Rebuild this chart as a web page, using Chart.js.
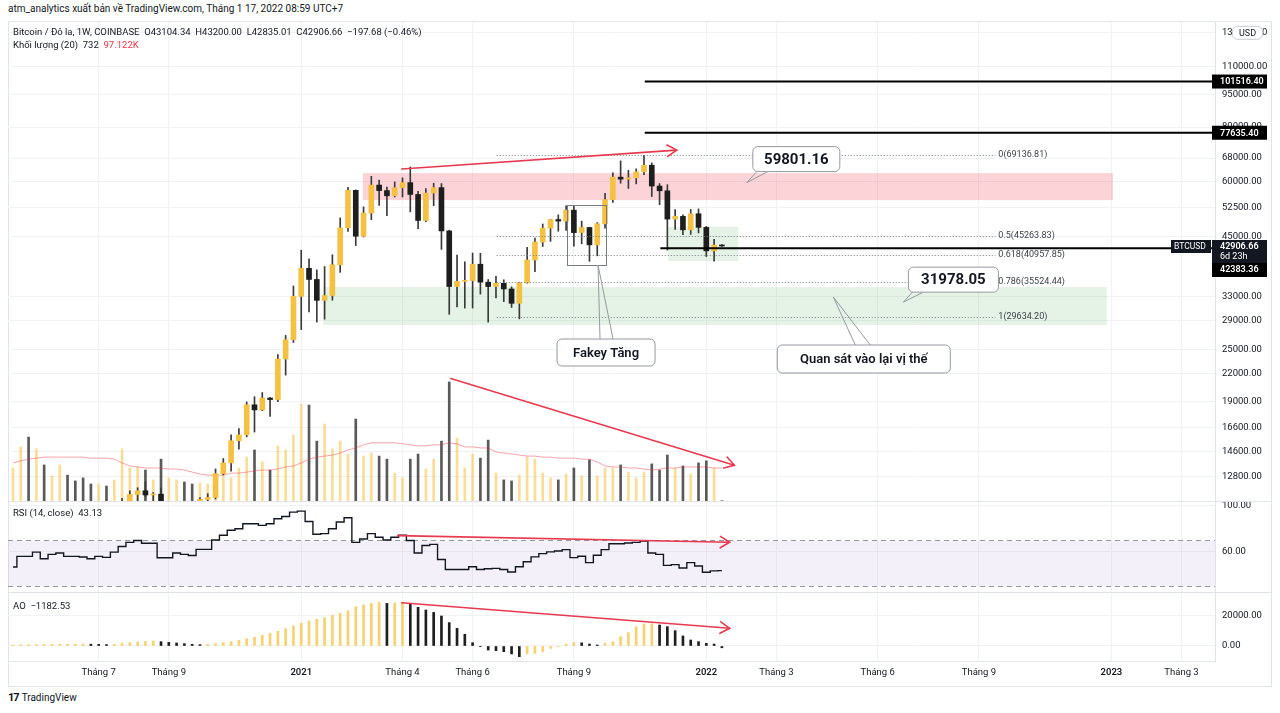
<!DOCTYPE html>
<html lang="vi">
<head>
<meta charset="UTF-8">
<title>Bitcoin / Đô la, 1W, COINBASE</title>
<script src="https://cdn.jsdelivr.net/npm/chart.js"></script>
<style>
  html, body { margin: 0; padding: 0; background: #fff; }
  body { width: 1280px; height: 713px; position: relative; overflow: hidden;
         font-family: Roboto, "Noto Sans", sans-serif; color: #131722; }
  .pub { position: absolute; left: 8px; top: 3px; font-size: 10px; }
  .frame { position: absolute; left: 8px; top: 21px; width: 1264px; height: 666px;
           border: 1px solid #e0e3eb; box-sizing: border-box; }
  .sep { position: absolute; left: 8px; width: 1264px; height: 1px; background: #e0e3eb; }
  canvas { position: absolute; left: 8px; }
  .lg { position: absolute; left: 13px; font-size: 9.5px; white-space: pre; z-index: 5; }
  .logo { position: absolute; left: 8px; top: 691px; font-size: 10px; }
  .logo b { font-size: 11px; letter-spacing: -1px; margin-right: 3px; }
</style>
</head>
<body>
<div class="pub">atm_analytics xuất bản về TradingView.com, Tháng 1 17, 2022 08:59 UTC+7</div>
<div class="frame"></div>
<div class="sep" style="top:501px"></div>
<div class="sep" style="top:592px"></div>

<canvas id="priceChart" width="1264" height="479" style="top:22px"></canvas>
<canvas id="rsiChart" width="1264" height="90" style="top:502px"></canvas>
<canvas id="aoChart" width="1264" height="93" style="top:593px"></canvas>

<div class="lg" style="top:26px">Bitcoin / Đô la, 1W, COINBASE  O43104.34  H43200.00  L42835.01  C42906.66  −197.68 (−0.46%)</div>
<div class="lg" style="top:39px">Khối lượng (20)  732  <span style="color:#f23645">97.122K</span></div>
<div class="lg" style="top:507px">RSI (14, close)  43.13</div>
<div class="lg" style="top:600px">AO  −1182.53</div>
<div class="logo"><b>17</b>TradingView</div>

<script>
// weekly bars, Apr 20 2020 ... Jan 17 2022 (index 0..91)
const opens = [6850,7700,8900,8720,9680,8900,9450,9760,9380,9300,
  9130,9070,9260,9190,9930,11050,11680,11910,11650,11700,
  10260,10330,10920,10750,10680,11380,11500,13030,13780,15480,
  15960,18680,18190,19350,19200,23740,26260,32960,38180,36010,
  32280,33100,38880,47180,57420,45160,50980,59030,57350,55800,
  58220,59800,56200,49050,56620,58250,46430,34700,35650,35800,
  39000,35500,34700,35290,34260,31780,35400,39870,43800,47100,
  49280,48880,51770,46030,47270,43170,48200,54700,61530,60880,
  61300,63270,65500,58730,57290,49400,50100,46700,50800,47300,
  41830,43104.34];
const highs = [7780,9460,10070,9920,9900,9780,10420,9990,9800,9780,
  9300,9470,9360,9990,11450,11900,12100,12470,11800,12090,
  10700,11100,10950,10960,11490,11730,13350,14100,15960,16490,
  18960,19490,19920,19420,24300,26860,34800,41990,40110,37870,
  38530,40980,49700,58350,57560,52650,61800,60630,58430,60000,
  61300,64900,57150,57950,59600,59500,46600,40900,39500,41350,
  41300,36000,36600,35950,34650,35450,42600,44750,48150,49350,
  50500,52950,52950,48850,47350,48500,56550,62950,67000,63750,
  64270,69000,66300,59500,59150,51950,50500,51950,52100,47550,
  44450,43200];
const lows = [6760,7680,8110,8200,8810,8640,9270,9120,8930,8830,
  8900,9040,9050,9150,9900,10950,11150,11550,11120,9880,
  9850,10230,10140,10400,10530,11200,11410,12950,13200,14800,
  15790,16200,18110,17580,19000,21820,25880,27700,30400,28800,
  29250,32300,37380,46300,43000,45000,49250,53050,50300,55450,
  55450,51300,47000,48750,53000,42150,30000,31200,31000,31000,
  33350,28800,32700,32070,31100,29300,35300,37500,42800,43950,
  46350,46550,42850,43400,39600,40750,47120,53880,59600,58000,
  59400,62300,55600,53250,42000,46800,45500,45600,45950,40600,
  39650,42835.01];
const closes = [7700,8900,8720,9680,8900,9450,9760,9380,9300,9010,
  9070,9260,9190,9930,11050,11680,11910,11650,11700,10260,
  10330,10920,10750,10680,11380,11500,13030,13780,15480,15960,
  18680,18190,19350,19200,23740,26260,32960,38180,36010,32280,
  33100,38880,47180,57420,45160,50980,59030,57350,55800,58220,
  59800,56200,49050,56620,58250,46430,34700,35650,35800,39000,
  35500,34700,35290,34260,31780,35400,39870,43800,47100,49280,
  48880,51770,46030,47270,43170,48200,54700,61530,60880,61300,
  63270,65500,58730,57290,49400,50100,46700,50800,47300,41830,
  43100,42906.66];
// volume in thousands of BTC
const volumes = [97,159,188,153,106,74,106,76,59,68,
  50,50,44,62,153,97,100,91,62,123,
  68,62,56,50,53,50,76,109,68,97,
  129,150,115,91,162,150,194,285,282,176,
  226,153,176,138,241,132,141,132,123,82,
  68,123,138,94,123,176,350,185,97,138,
  126,179,82,62,59,76,129,123,82,68,
  62,79,97,74,121,74,97,97,106,85,
  68,85,109,91,135,97,103,79,112,118,
  97,0.732];
const volumeMA = [112,118,123,126,129,129,129,129,129,129,
  126,126,126,123,112,103,100,97,97,97,
  94,94,91,85,79,76,76,76,82,82,
  85,88,91,91,94,100,103,112,123,129,
  132,135,141,150,156,165,171,171,171,171,
  168,165,162,162,165,165,171,168,159,159,
  156,156,144,141,138,135,132,132,129,129,
  126,126,126,123,123,115,103,100,100,97,
  97,94,91,94,97,97,100,100,100,100,
  97,97.122];
const rsi = [46.4,55.7,55.7,59.4,53.6,57.4,58.6,55.7,55.7,55.1,
  53.6,55.7,54.8,59.4,64.3,68.0,69.6,67.2,67.2,54.5,
  54.5,58.6,57.4,56.5,61.8,61.8,70.1,74.2,78.6,80.0,
  84.4,84.4,82.9,84.4,88.8,90.8,94.6,95.5,86.4,75.1,
  75.7,80.0,85.9,89.6,68.0,71.0,75.7,72.5,70.1,72.5,
  74.2,69.6,58.6,65.3,66.2,52.9,44.2,44.2,44.2,46.5,
  44.2,44.8,45.1,44.2,41.9,46.5,50.9,55.2,58.1,59.6,
  60.4,61.6,54.6,55.8,50.2,56.7,61.6,66.8,66.8,67.4,
  68.0,69.1,58.6,57.4,47.8,48.4,45.5,50.2,47.2,41.7,
  42.9,43.13];
const ao = [650,780,860,940,1010,1060,1130,1170,1240,1290,
  1200,1080,950,1100,1800,2200,2700,3100,3300,2900,
  2400,2000,1550,1100,900,1100,1550,2200,2900,3800,
  4900,5800,7100,8400,9800,11500,13300,15100,16700,17800,
  18900,20400,21800,23500,26200,27300,28400,29100,28400,28700,
  28900,28000,25800,24000,22400,20000,15600,11800,7800,2200,
  -450,-2700,-3100,-3800,-5300,-7100,-5300,-4900,-3800,-1600,
  -450,1300,2200,2100,1300,700,1800,2900,6200,8900,
  12900,14700,14800,14000,12900,10200,6700,4000,2900,1800,
  1300,-1182.53];

const priceTicks = [131000,110000,95000,80000,68000,60000,52500,45000,33000,29000,25000,22000,19000,16600,14600,12800];
const timeTickIdx = [11,20,37,50,59,72,89,98,111,124,141,150];
const timeTickLabels = ['Tháng 7','Tháng 9','2021','Tháng 4','Tháng 6','Tháng 9','2022','Tháng 3','Tháng 6','Tháng 9','2023','Tháng 3'];
const rsiTicks = [100, 60];
const aoTicks = [20000, 0];

const fibLevels = [69136.81, 45263.83, 40957.85, 35524.44, 29634.20];
const fibRatios = ['0', '0.5', '0.618', '0.786', '1'];
const rayLevels = [101516.40, 77635.40];
const lastPrice = 42906.66;
const supportRay = 42383.36;

const FONT = 'Roboto, "Noto Sans", sans-serif';
const TXT = '#131722';
const GRID = '#f1f2f6';
const UP = '#f5c142', DOWN = '#1e1e1e', WICK = '#3a3a3a';
const VOL_UP = 'rgba(245,193,66,0.55)', VOL_DOWN = 'rgba(60,60,60,0.85)';
const RED = '#e8394f';
const AXIS_W = 57;
const X_MIN = -0.642, X_MAX = 154.3;

Chart.defaults.font.family = FONT;
Chart.defaults.color = TXT;

const idx = opens.map((_, i) => i);
const up = i => closes[i] >= opens[i];

function xScale(showLabels) {
  return {
    type: 'linear', min: X_MIN, max: X_MAX, offset: false,
    afterBuildTicks: s => { s.ticks = timeTickIdx.map(v => ({ value: v })); },
    afterFit: s => { s.height = showLabels ? 25 : 0; s.paddingLeft = 0; s.paddingRight = 0; },
    grid: { color: GRID, drawTicks: false, offset: false },
    border: { display: showLabels, color: '#e0e3eb' },
    ticks: {
      display: showLabels, autoSkip: false, maxRotation: 0, padding: 6, color: TXT,
      font: c => ({ size: 9.5, weight: /^\d{4}$/.test(timeTickLabels[c.index]) ? '600' : '400' }),
      callback: (v, k) => timeTickLabels[k]
    }
  };
}
function yRight(opts, tickVals) {
  return Object.assign({
    position: 'right',
    afterFit: s => { s.width = AXIS_W; s.paddingTop = 0; s.paddingBottom = 0; },
    afterBuildTicks: s => { s.ticks = tickVals.map(v => ({ value: v })); },
    grid: { color: GRID, drawTicks: false },
    border: { display: true, color: '#e0e3eb' },
    ticks: { autoSkip: false, padding: 7, color: TXT, font: { size: 9.5 }, callback: v => Number(v).toFixed(2) }
  }, opts);
}
const base = {
  responsive: false, animation: false, devicePixelRatio: 1, events: [],
  layout: { padding: 0 },
  plugins: { legend: { display: false }, tooltip: { enabled: false } }
};

function arrow(ctx, x1, y1, x2, y2) {
  ctx.save();
  ctx.strokeStyle = RED; ctx.lineWidth = 1.6; ctx.lineCap = 'round';
  ctx.beginPath(); ctx.moveTo(x1, y1); ctx.lineTo(x2, y2); ctx.stroke();
  const a = Math.atan2(y2 - y1, x2 - x1), L = 11;
  ctx.beginPath();
  ctx.moveTo(x2 - L * Math.cos(a - 0.55), y2 - L * Math.sin(a - 0.55));
  ctx.lineTo(x2, y2);
  ctx.lineTo(x2 - L * Math.cos(a + 0.55), y2 - L * Math.sin(a + 0.55));
  ctx.stroke();
  ctx.restore();
}
function rbox(ctx, x, y, w, h, r) {
  ctx.beginPath();
  if (ctx.roundRect) ctx.roundRect(x, y, w, h, r); else ctx.rect(x, y, w, h);
}
function callout(ctx, ax, ay, c) {
  const [dx, dy, w, h] = c.box;
  ctx.save();
  ctx.strokeStyle = '#9598a1'; ctx.lineWidth = 1; ctx.fillStyle = '#fff';
  ctx.beginPath();
  ctx.moveTo(ax + c.base[0][0], ay + c.base[0][1]);
  ctx.lineTo(ax, ay);
  ctx.lineTo(ax + c.base[1][0], ay + c.base[1][1]);
  ctx.stroke();
  rbox(ctx, ax + dx, ay + dy, w, h, 5); ctx.fill(); ctx.stroke();
  ctx.fillStyle = TXT; ctx.font = c.font; ctx.textAlign = 'center'; ctx.textBaseline = 'middle';
  ctx.fillText(c.text, ax + dx + w / 2, ay + dy + h / 2 + 1);
  ctx.restore();
}

const callouts = [
  { i: 94.2, p: 59801.16, text: '59801.16', font: `700 15px ${FONT}`, box: [6, -36, 87, 25], base: [[10, -11], [21, -11]] },
  { i: 114.3, p: 31978.05, text: '31978.05', font: `700 15px ${FONT}`, box: [5, -35, 90, 25], base: [[9, -10], [20, -10]] },
  { i: 75.1, p: 38840, text: 'Fakey Tăng', font: `600 13px ${FONT}`, box: [-41, 74, 98, 27], base: [[2, 74], [15, 74]] },
  { i: 105.3, p: 32850, text: 'Quan sát vào lại vị thế', font: `600 13px ${FONT}`, box: [-56, 48, 173, 28], base: [[22, 48], [37, 48]] }
];

const priceDraw = {
  id: 'priceDraw',
  beforeDatasetsDraw(chart) {
    const { ctx, chartArea: a, scales: { x, y } } = chart;
    ctx.save();
    ctx.beginPath(); ctx.rect(a.left, a.top, a.right - a.left, a.bottom - a.top); ctx.clip();
    const zone = (i1, i2, p1, p2, col) => {
      ctx.fillStyle = col;
      ctx.fillRect(x.getPixelForValue(i1), y.getPixelForValue(p2), x.getPixelForValue(i2) - x.getPixelForValue(i1), y.getPixelForValue(p1) - y.getPixelForValue(p2));
    };
    zone(44.9, 141.2, 54570, 62850, 'rgba(242,54,69,0.21)');
    zone(39.8, 140.4, 28380, 34610, 'rgba(76,175,80,0.15)');
    zone(84.1, 93.1, 39660, 47390, 'rgba(76,175,80,0.15)');
    ctx.restore();
  },
  afterDatasetsDraw(chart) {
    const { ctx, chartArea: a, scales: { x, y, yVol } } = chart;
    ctx.save();
    // fib retracement
    ctx.setLineDash([1, 2]); ctx.strokeStyle = '#787b86'; ctx.lineWidth = 1;
    const fx1 = x.getPixelForValue(62.1), fx2 = x.getPixelForValue(126.1);
    fibLevels.forEach(lv => {
      const py = Math.round(y.getPixelForValue(lv)) + 0.5;
      ctx.beginPath(); ctx.moveTo(fx1, py); ctx.lineTo(fx2, py); ctx.stroke();
    });
    ctx.setLineDash([]);
    ctx.fillStyle = '#3c3f4a'; ctx.font = `9px ${FONT}`; ctx.textBaseline = 'middle'; ctx.textAlign = 'left';
    fibLevels.forEach((lv, k) => ctx.fillText(`${fibRatios[k]}(${lv.toFixed(2)})`, fx2 + 3, y.getPixelForValue(lv)));
    // horizontal rays
    ctx.strokeStyle = '#000'; ctx.lineWidth = 2;
    rayLevels.forEach(lv => {
      const py = y.getPixelForValue(lv);
      ctx.beginPath(); ctx.moveTo(x.getPixelForValue(81.1), py); ctx.lineTo(a.right, py); ctx.stroke();
    });
    const sy = y.getPixelForValue(supportRay);
    ctx.beginPath(); ctx.moveTo(x.getPixelForValue(83.1), sy); ctx.lineTo(a.right, sy); ctx.stroke();
    // fakey rectangle
    ctx.strokeStyle = '#787b86'; ctx.lineWidth = 1;
    const rx1 = x.getPixelForValue(71.1), rx2 = x.getPixelForValue(76.1);
    const ry1 = y.getPixelForValue(53170), ry2 = y.getPixelForValue(38840);
    ctx.strokeRect(Math.round(rx1) + 0.5, Math.round(ry1) + 0.5, Math.round(rx2 - rx1), Math.round(ry2 - ry1));
    // trend arrows
    arrow(ctx, x.getPixelForValue(49.9), y.getPixelForValue(64200), x.getPixelForValue(85.2), y.getPixelForValue(70900));
    arrow(ctx, x.getPixelForValue(56.2), yVol.getPixelForValue(360), x.getPixelForValue(92.6), yVol.getPixelForValue(105));
    // callouts
    callouts.forEach(c => callout(ctx, x.getPixelForValue(c.i), y.getPixelForValue(c.p), c));
    ctx.restore();
  },
  afterDraw(chart) {
    const { ctx, chartArea: a, scales: { y } } = chart;
    const R = a.right;
    ctx.save();
    ctx.textBaseline = 'middle'; ctx.textAlign = 'left';
    const boxFont = `600 9px ${FONT}`;
    ctx.font = boxFont;
    rayLevels.forEach(lv => {
      const py = y.getPixelForValue(lv);
      ctx.fillStyle = '#000'; ctx.fillRect(R - 3, py - 7, 55, 14);
      ctx.fillStyle = '#fff'; ctx.fillText(lv.toFixed(2), R + 5, py + 0.5);
    });
    const py = y.getPixelForValue(lastPrice);
    ctx.fillStyle = TXT; ctx.fillRect(R - 3, py - 6, 55, 23);
    ctx.fillStyle = '#000'; ctx.fillRect(R - 3, py + 17, 55, 14);
    ctx.fillStyle = '#fff';
    ctx.fillText(lastPrice.toFixed(2), R + 5, py + 0.5);
    ctx.font = `9px ${FONT}`; ctx.fillText('6d 23h', R + 5, py + 11);
    ctx.font = boxFont; ctx.fillText(supportRay.toFixed(2), R + 5, py + 24);
    ctx.fillStyle = TXT; ctx.fillRect(R - 44, py - 6, 40, 13);
    ctx.fillStyle = '#fff'; ctx.font = `8.5px ${FONT}`; ctx.fillText('BTCUSD', R - 41, py + 0.5);
    // unit badge
    const uy = y.getPixelForValue(131000);
    ctx.fillStyle = '#fff'; ctx.strokeStyle = '#c9ccd4'; ctx.lineWidth = 1;
    rbox(ctx, R + 17.5, uy - 6.5, 30, 13, 5); ctx.fill(); ctx.stroke();
    ctx.fillStyle = TXT; ctx.font = `9px ${FONT}`; ctx.textAlign = 'center';
    ctx.fillText('USD', R + 32.5, uy + 0.5);
    ctx.restore();
  }
};

new Chart(document.getElementById('priceChart'), {
  type: 'bar',
  data: {
    datasets: [
      { type: 'bar', data: idx.map(i => ({ x: i, y: [opens[i], closes[i]] })), yAxisID: 'y',
        backgroundColor: idx.map(i => up(i) ? UP : DOWN), barThickness: 5, minBarLength: 1, grouped: false, order: 0 },
      { type: 'bar', data: idx.map(i => ({ x: i, y: [lows[i], highs[i]] })), yAxisID: 'y',
        backgroundColor: WICK, barThickness: 1, grouped: false, order: 1 },
      { type: 'line', data: idx.map(i => ({ x: i, y: volumeMA[i] })), yAxisID: 'yVol',
        borderColor: 'rgba(242,54,69,0.45)', borderWidth: 1, pointRadius: 0, order: 2 },
      { type: 'bar', data: idx.map(i => ({ x: i, y: volumes[i] })), yAxisID: 'yVol',
        backgroundColor: idx.map(i => up(i) ? VOL_UP : VOL_DOWN), barThickness: 2, grouped: false, order: 3 }
    ]
  },
  options: Object.assign({}, base, {
    scales: {
      x: xScale(false),
      y: yRight({ type: 'logarithmic', min: 11288, max: 138650 }, priceTicks),
      yVol: { type: 'linear', display: false, min: 0, max: 1408 }
    }
  }),
  plugins: [priceDraw]
});

const rsiDraw = {
  id: 'rsiDraw',
  beforeDatasetsDraw(chart) {
    const { ctx, chartArea: a, scales: { y } } = chart;
    const y70 = Math.round(y.getPixelForValue(70)) + 0.5, y30 = Math.round(y.getPixelForValue(30)) + 0.5;
    ctx.save();
    ctx.fillStyle = 'rgba(126,87,194,0.09)';
    ctx.fillRect(a.left, y70, a.right - a.left, y30 - y70);
    ctx.strokeStyle = '#9598a1'; ctx.lineWidth = 1; ctx.setLineDash([5, 4]);
    [y70, y30].forEach(v => { ctx.beginPath(); ctx.moveTo(a.left, v); ctx.lineTo(a.right, v); ctx.stroke(); });
    ctx.restore();
  },
  afterDatasetsDraw(chart) {
    const { ctx, scales: { x, y } } = chart;
    arrow(ctx, x.getPixelForValue(49.4), y.getPixelForValue(73.9), x.getPixelForValue(92.0), y.getPixelForValue(68.1));
  }
};

new Chart(document.getElementById('rsiChart'), {
  type: 'line',
  data: {
    datasets: [{ data: idx.map(i => ({ x: i, y: rsi[i] })), stepped: 'middle',
      borderColor: TXT, borderWidth: 1.4, pointRadius: 0 }]
  },
  options: Object.assign({}, base, {
    scales: { x: xScale(false), y: yRight({ type: 'linear', min: 24.35, max: 103.5 }, rsiTicks) }
  }),
  plugins: [rsiDraw]
});

const aoDraw = {
  id: 'aoDraw',
  afterDatasetsDraw(chart) {
    const { ctx, scales: { x, y } } = chart;
    arrow(ctx, x.getPixelForValue(49.9), y.getPixelForValue(28870), x.getPixelForValue(92.0), y.getPixelForValue(11800));
  }
};

new Chart(document.getElementById('aoChart'), {
  type: 'bar',
  data: {
    datasets: [{ data: idx.map(i => ({ x: i, y: ao[i] })),
      backgroundColor: idx.map(i => (i === 0 || ao[i] >= ao[i - 1]) ? 'rgba(245,193,66,0.75)' : DOWN),
      barThickness: 2, grouped: false }]
  },
  options: Object.assign({}, base, {
    scales: { x: xScale(true), y: yRight({ type: 'linear', min: -10000, max: 35333 }, aoTicks) }
  }),
  plugins: [aoDraw]
});
</script>
</body>
</html>
